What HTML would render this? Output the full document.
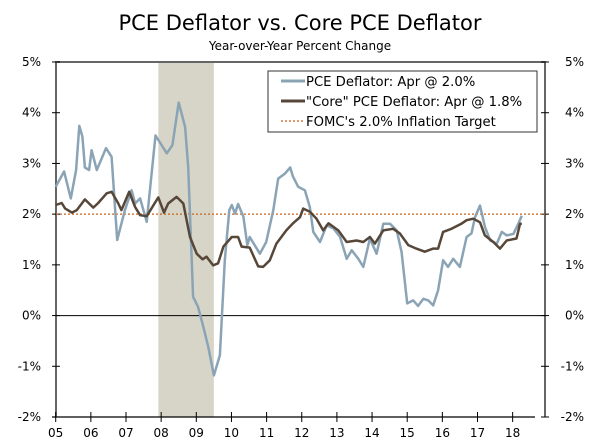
<!DOCTYPE html>
<html><head><meta charset="utf-8"><style>
body{margin:0;background:#fff;}
svg{display:block;font-family:"DejaVu Sans","Liberation Sans",sans-serif;}
</style></head><body>
<svg id="chart" width="600" height="443">
<text x="300" y="30" text-anchor="middle" font-size="21" fill="#000">PCE Deflator vs. Core PCE Deflator</text>
<text x="300" y="50" text-anchor="middle" font-size="12" fill="#000">Year-over-Year Percent Change</text>
<g id="plot"></g>
</svg>
<script>
const yTicks=[5,4,3,2,1,0,-1,-2];
const xYears=[2005,2006,2007,2008,2009,2010,2011,2012,2013,2014,2015,2016,2017,2018];
const recession=[2007.92,2009.5];
const target=2.0;
const pceX=[2005.0,2005.24,2005.43,2005.58,2005.67,2005.76,2005.83,2005.95,2006.02,2006.17,2006.43,2006.59,2006.75,2006.97,2007.16,2007.26,2007.40,2007.59,2007.84,2008.16,2008.32,2008.50,2008.68,2008.77,2008.91,2009.05,2009.20,2009.34,2009.50,2009.67,2009.81,2009.94,2010.01,2010.10,2010.19,2010.34,2010.45,2010.52,2010.81,2010.99,2011.19,2011.33,2011.52,2011.67,2011.75,2011.90,2012.09,2012.23,2012.33,2012.52,2012.71,2012.90,2013.09,2013.28,2013.42,2013.61,2013.75,2013.94,2014.13,2014.32,2014.51,2014.70,2014.84,2015.00,2015.17,2015.31,2015.46,2015.60,2015.74,2015.88,2016.02,2016.16,2016.31,2016.50,2016.69,2016.83,2016.93,2017.07,2017.21,2017.36,2017.55,2017.69,2017.83,2018.02,2018.16,2018.26];
const pceY=[2.54,2.84,2.31,2.87,3.74,3.53,2.92,2.87,3.26,2.87,3.30,3.13,1.49,2.08,2.47,2.21,2.31,1.85,3.55,3.20,3.36,4.20,3.72,2.93,0.37,0.17,-0.22,-0.62,-1.18,-0.78,1.09,2.08,2.18,2.01,2.20,1.95,1.39,1.55,1.22,1.45,2.08,2.70,2.80,2.92,2.74,2.54,2.47,2.14,1.65,1.45,1.78,1.72,1.55,1.12,1.29,1.12,0.96,1.52,1.22,1.81,1.81,1.68,1.25,0.24,0.30,0.19,0.33,0.30,0.20,0.50,1.09,0.96,1.12,0.96,1.55,1.62,1.94,2.17,1.75,1.48,1.42,1.65,1.58,1.61,1.81,1.97];
const coreX=[2005.0,2005.17,2005.27,2005.46,2005.60,2005.83,2006.07,2006.21,2006.45,2006.59,2006.78,2006.87,2007.09,2007.26,2007.40,2007.59,2007.92,2008.08,2008.20,2008.44,2008.63,2008.82,2009.01,2009.18,2009.29,2009.48,2009.62,2009.77,2010.01,2010.19,2010.29,2010.52,2010.76,2010.90,2011.09,2011.28,2011.56,2011.75,2011.95,2012.04,2012.23,2012.42,2012.61,2012.76,2013.04,2013.28,2013.56,2013.75,2013.94,2014.08,2014.32,2014.60,2014.79,2015.03,2015.26,2015.50,2015.74,2015.88,2016.02,2016.26,2016.54,2016.69,2016.88,2017.07,2017.21,2017.45,2017.64,2017.83,2018.11,2018.21,2018.26];
const coreY=[2.18,2.22,2.11,2.03,2.08,2.29,2.13,2.22,2.41,2.44,2.21,2.08,2.44,2.14,1.98,1.96,2.33,2.03,2.21,2.34,2.21,1.55,1.22,1.11,1.16,0.99,1.03,1.36,1.55,1.55,1.36,1.34,0.97,0.96,1.09,1.42,1.68,1.82,1.94,2.11,2.05,1.91,1.68,1.82,1.68,1.45,1.48,1.45,1.55,1.42,1.68,1.71,1.62,1.39,1.32,1.26,1.32,1.32,1.65,1.71,1.81,1.88,1.91,1.84,1.58,1.45,1.32,1.48,1.52,1.81,1.81];
const legendLabels=["PCE Deflator: Apr @ 2.0%","\"Core\" PCE Deflator: Apr @ 1.8%","FOMC's 2.0% Inflation Target"];

const L=56,R=545,T=62,B=417;
const xs=v=>55.7+(v-2005)*35.15;
const ys=v=>T+(5-v)*(B-T)/7;
const g=document.getElementById('plot');
const NS='http://www.w3.org/2000/svg';
function mk(tag,at,parent){const e=document.createElementNS(NS,tag);for(const k in at)e.setAttribute(k,at[k]);(parent||g).appendChild(e);return e;}

let r=mk('rect',{x:xs(recession[0]),y:T,width:xs(recession[1])-xs(recession[0]),height:B-T,fill:'#d7d5c8'});



let frame=mk('path',{d:`M${L} ${B}V${T}H${R}V${B}`,fill:'none',stroke:'#666',"stroke-width":2});



yTicks.forEach(t=>{
 const y=ys(t);
 let a=mk('line',{x1:L-4,x2:L+4,y1:y,y2:y,stroke:'#000'});
 
 
 let b=mk('line',{x1:R-4,x2:R+4,y1:y,y2:y,stroke:'#000'});
 
 
 let tl=mk('text',{x:41,y:y+4,"text-anchor":"end","font-size":12});
 tl.textContent=t+'%';
 
 
 let tr=mk('text',{x:584,y:y+4,"text-anchor":"end","font-size":12});
 tr.textContent=t+'%';
 
 
});
let zl=mk('line',{x1:L,x2:R,y1:ys(0),y2:ys(0),stroke:'#000',"stroke-width":1});


let xa=mk('line',{x1:L-4,x2:R-10,y1:B,y2:B,stroke:'#000',"stroke-width":1.2});


xYears.forEach(yr=>{
 const x=xs(yr);
 let t=mk('line',{x1:x,x2:x,y1:B-5,y2:B+5,stroke:'#000'});
 
 
 let l=mk('text',{x:x,y:437,"text-anchor":"middle","font-size":12});
 l.textContent=String(yr%100).padStart(2,'0');
 
 
});
let tg=mk('line',{x1:L,x2:R,y1:ys(target),y2:ys(target),stroke:'#c8621a',"stroke-width":1.2,"stroke-dasharray":"2,2"});


function pts(X,Y){return X.map((x,i)=>xs(x).toFixed(1)+','+ys(Y[i]).toFixed(1)).join(' ');}
let p1=mk('polyline',{points:pts(pceX,pceY),fill:'none',stroke:'#8aa4b5',"stroke-width":2.5,"stroke-linejoin":"round"});


let p2=mk('polyline',{points:pts(coreX,coreY),fill:'none',stroke:'#574739',"stroke-width":2.5,"stroke-linejoin":"round"});



const lg=mk('g',{});


mk('rect',{x:268,y:71,width:269,height:61,fill:'#fff',stroke:'#333',"stroke-width":1},lg);
const ly=[86,106,126];
const styles=[{stroke:'#8aa4b5',"stroke-width":3},{stroke:'#574739',"stroke-width":3},{stroke:'#c8621a',"stroke-width":1.2,"stroke-dasharray":"2,2"}];
const names=['legend-entry-pce','legend-entry-core','legend-entry-target'];
legendLabels.forEach((s,i)=>{
 const e=mk('g',{},lg);
 
 
 mk('line',Object.assign({x1:281,x2:305,y1:ly[i]-5,y2:ly[i]-5},styles[i]),e);
 const t=mk('text',{x:306,y:ly[i],"font-size":13.2},e);
 t.textContent=s;
});
</script>
</body></html>
